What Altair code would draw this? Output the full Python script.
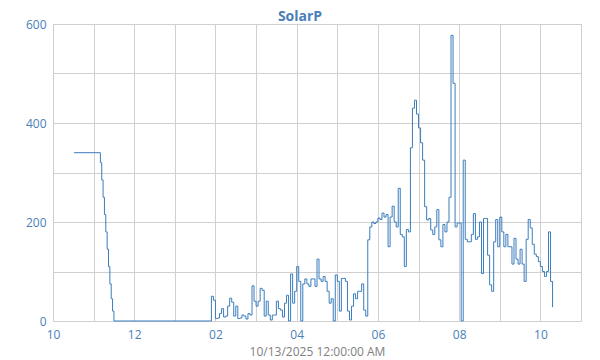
import altair as alt
import pandas as pd

# ---- data ----
early_times = [
    "2025-10-12T22:31:00Z", "2025-10-12T23:08:00Z", "2025-10-12T23:10:00Z",
    "2025-10-12T23:12:00Z", "2025-10-12T23:14:00Z", "2025-10-12T23:16:00Z",
    "2025-10-12T23:18:00Z", "2025-10-12T23:20:00Z", "2025-10-12T23:22:00Z",
    "2025-10-12T23:24:00Z", "2025-10-12T23:26:00Z", "2025-10-12T23:28:00Z",
    "2025-10-12T23:30:00Z",
]
early_values = [340, 340, 320, 285, 250, 215, 180, 145, 110, 75, 45, 20, 0]

# samples every 3 minutes from 01:54 on 10/13
noisy_start = "2025-10-13T01:54:00Z"
noisy_values = [
    50, 42, 5, 6, 15, 25, 8, 10, 30, 46, 38, 10, 30, 5, 6, 12, 10, 4, 15, 12,
    71, 40, 30, 40, 66, 62, 10, 40, 12, 2, 12, 12, 40, 25, 22, 8, 36, 52, 0, 95,
    36, 60, 110, 80, 0, 75, 85, 75, 70, 85, 85, 70, 125, 85, 80, 90, 80, 60, 36, 45,
    0, 93, 80, 20, 86, 86, 80, 20, 2, 30, 55, 45, 60, 60, 75, 22, 10, 164, 190, 200,
    197, 200, 208, 205, 218, 210, 215, 150, 210, 232, 200, 190, 268, 175, 170, 110, 185, 180, 350, 430,
    446, 418, 390, 360, 325, 231, 204, 207, 184, 175, 190, 225, 164, 150, 195, 180, 200, 250, 577, 480,
    190, 198, 198, 0, 325, 165, 160, 160, 175, 217, 165, 170, 200, 96, 207, 207, 133, 73, 60, 160,
    205, 150, 210, 180, 150, 175, 150, 150, 115, 167, 125, 115, 145, 115, 80, 165, 205, 188, 155, 135,
    130, 120, 110, 100, 90, 100, 180, 80, 28,
]

noisy_times = pd.date_range(noisy_start, periods=len(noisy_values), freq="3min")
df = pd.DataFrame({
    "time": list(pd.to_datetime(early_times)) + list(noisy_times),
    "SolarP": early_values + noisy_values,
})
df["time"] = df["time"].dt.strftime("%Y-%m-%dT%H:%M:%SZ")

BLUE = "#4a7fb8"
hour_ticks = [alt.DateTime(year=2025, month=10, date=12 + (22 + h) // 24,
                           hours=(22 + h) % 24, utc=True) for h in range(14)]

chart = alt.Chart(df).mark_line(
    interpolate="step-after", color="#3a7dbd", strokeWidth=1
).encode(
    x=alt.X("time:T",
            scale=alt.Scale(type="utc",
                            domain=[alt.DateTime(year=2025, month=10, date=12, hours=22, utc=True),
                                    alt.DateTime(year=2025, month=10, date=13, hours=11, utc=True)]),
            axis=alt.Axis(values=hour_ticks,
                          labelExpr="utchours(datum.value) % 2 == 0 ? utcFormat(datum.value, '%I') : ''",
                          title="10/13/2025 12:00:00 AM",
                          labelFlush=False, labelOverlap=False,
                          labelPadding=8, titlePadding=6)),
    y=alt.Y("SolarP:Q",
            scale=alt.Scale(domain=[0, 600], nice=False),
            axis=alt.Axis(values=[0, 100, 200, 300, 400, 500, 600],
                          labelExpr="datum.value % 200 == 0 ? datum.label : ''",
                          labelFlush=False, labelOverlap=False,
                          title=None, labelPadding=7)),
).properties(
    width=528, height=297,
    autosize=alt.AutoSizeParams(type="none"),
    padding={"left": 45, "top": 16, "right": 11, "bottom": 39},
    title=alt.Title("SolarP", fontSize=14, fontWeight="bold", color=BLUE,
                    font="Open Sans", anchor="middle", offset=6, dx=-17, dy=12),
).configure_view(
    stroke="#cccccc", strokeWidth=1
).configure_axis(
    grid=True, gridColor="#d0d0d0", gridWidth=1, domain=False, ticks=False,
    labelFont="Open Sans", labelFontSize=12, labelColor=BLUE,
    titleFont="Open Sans", titleFontSize=12, titleColor="#808080", titleFontWeight="normal",
)

chart.save("out.html", embed_options={"renderer": "svg", "actions": False})
